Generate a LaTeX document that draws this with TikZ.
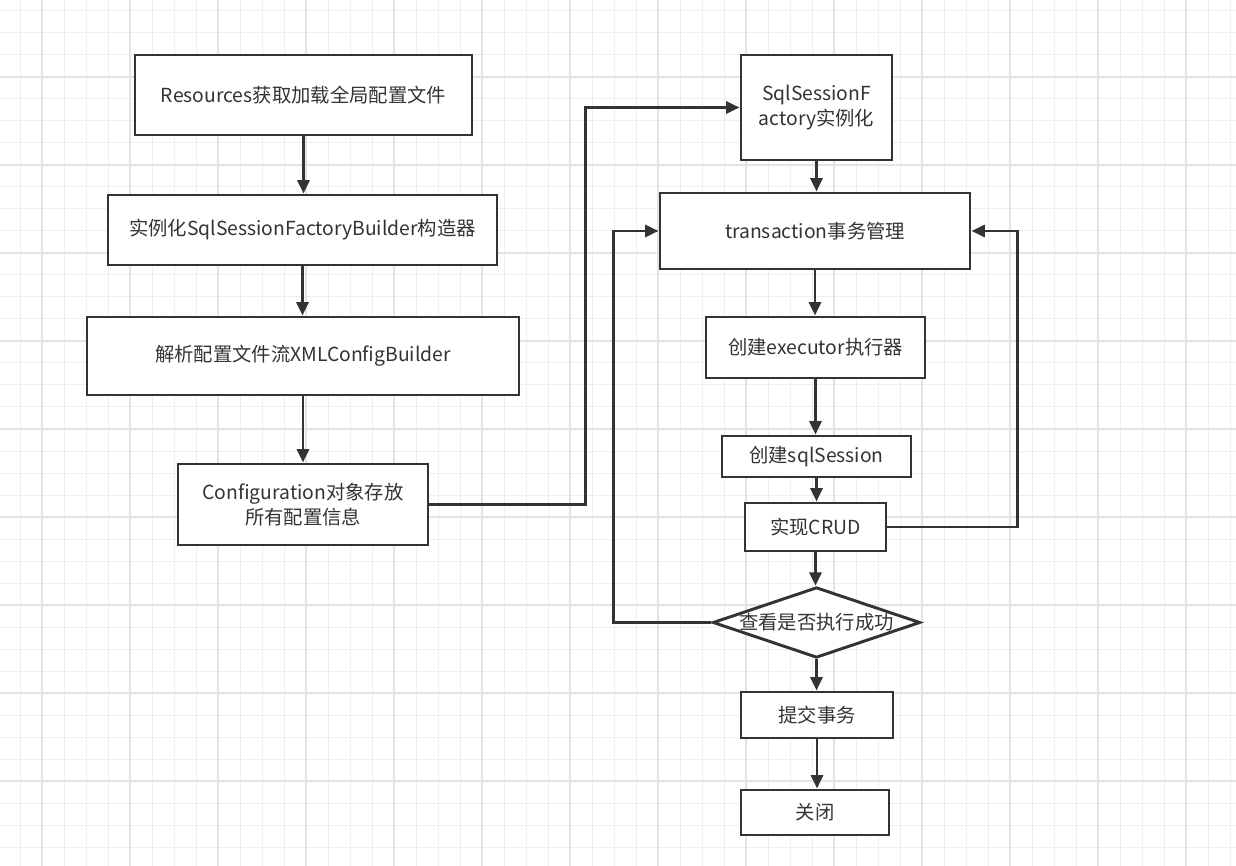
\documentclass[tikz,border=0pt]{standalone}
\usepackage{fontspec}
\setmainfont{Noto Sans CJK SC}
\usetikzlibrary{shapes.geometric,arrows.meta}
\definecolor{linegray}{HTML}{333333}
\definecolor{gridminor}{HTML}{EEEEEE}
\definecolor{gridmajor}{HTML}{E3E3E3}
\tikzset{
	box/.style={draw=linegray, line width=2.2pt, fill=white, text=linegray, align=center, inner sep=0pt, font=\fontsize{14.5}{19}\selectfont},
	link/.style={draw=linegray, line width=2.2pt, -{Triangle[length=10pt,width=9pt]}},
}
\begin{document}
\begin{tikzpicture}[x=.75pt, y=-.75pt]
	\useasboundingbox (0,0) rectangle (1236,866);
	\fill[white] (0,0) rectangle (1236,866);
	%grid paper
	\foreach \i in {0,...,55} \draw[gridminor, line width=.75pt] ({20+22*\i},0) -- ({20+22*\i},866);
	\foreach \i in {0,...,39} \draw[gridminor, line width=.75pt] (0,{11+22*\i}) -- (1236,{11+22*\i});
	\foreach \i in {0,...,13} \draw[gridmajor, line width=1.5pt] ({42+88*\i},0) -- ({42+88*\i},866);
	\foreach \i in {0,...,9}  \draw[gridmajor, line width=1.5pt] (0,{77+88*\i}) -- (1236,{77+88*\i});
	%left column
	\node[box, minimum width=337pt*.75, minimum height=80pt*.75] (res) at (303.5,95)  {Resources获取加载全局配置文件};
	\node[box, minimum width=389pt*.75, minimum height=70pt*.75] (bld) at (302.5,230) {实例化SqlSessionFactoryBuilder构造器};
	\node[box, minimum width=432pt*.75, minimum height=78pt*.75] (xml) at (303,356)   {解析配置文件流XMLConfigBuilder};
	\node[box, minimum width=250pt*.75, minimum height=81pt*.75] (cfg) at (303,504.5) {Configuration对象存放\\所有配置信息};
	%right column
	\node[box, minimum width=151pt*.75, minimum height=105pt*.75] (fac) at (816.5,107.5) {SqlSessionF\\actory实例化};
	\node[box, minimum width=310pt*.75, minimum height=76pt*.75]  (tra) at (815,231)     {transaction事务管理};
	\node[box, minimum width=219pt*.75, minimum height=61pt*.75]  (exe) at (815.5,347.5) {创建executor执行器};
	\node[box, minimum width=189pt*.75, minimum height=41pt*.75]  (ses) at (816.5,456.5) {创建sqlSession};
	\node[box, minimum width=141pt*.75, minimum height=48pt*.75]  (crud) at (815.5,527)  {实现CRUD};
	\node[box, shape=diamond, aspect=2.94, minimum width=203pt*.75, minimum height=69pt*.75] (chk) at (816.5,622.5) {查看是否执行成功};
	\node[box, minimum width=152pt*.75, minimum height=46pt*.75]  (cmt) at (817,715)     {提交事务};
	\node[box, minimum width=148pt*.75, minimum height=45pt*.75]  (cls) at (815,812.5)   {关闭};
	%connectors
	\draw[link] (res.south) -- (res.south |- bld.north);
	\draw[link] (bld.south) -- (bld.south |- xml.north);
	\draw[link] (xml.south) -- (xml.south |- cfg.north);
	\draw[link] (cfg.east) -- ++(156,0) |- (fac.west);
	\draw[link] (fac.south) -- (fac.south |- tra.north);
	\draw[link] (tra.south) -- (tra.south |- exe.north);
	\draw[link] (exe.south) -- (exe.south |- ses.north);
	\draw[link] (ses.south) -- (ses.south |- crud.north);
	\draw[link] (crud.east) -- ++(130,0) |- (tra.east);
	\draw[link] (crud.south) -- (crud.south |- chk.north);
	\draw[link] (chk.west) -- ++(-98,0) |- (tra.west);
	\draw[link] (chk.south) -- (chk.south |- cmt.north);
	\draw[link] (cmt.south) -- (cmt.south |- cls.north);
\end{tikzpicture}
\end{document}
